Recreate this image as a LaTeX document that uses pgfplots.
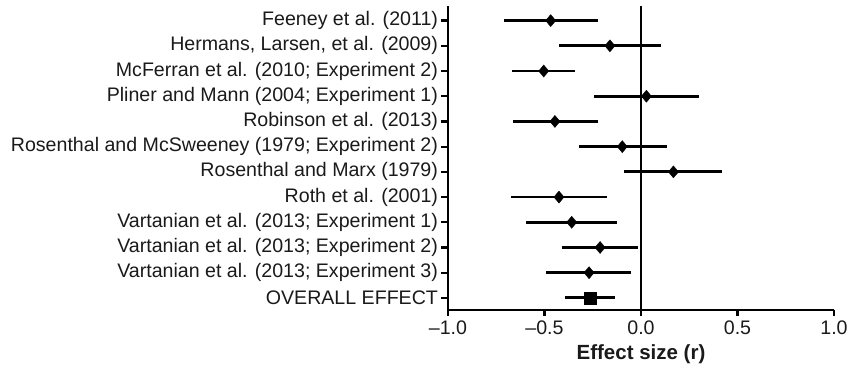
\documentclass[border=0pt]{standalone}
\usepackage{fontspec}
\setmainfont{Liberation Sans}
\usepackage{pgfplots}
\usepackage{pgfplotstable}
\pgfplotsset{compat=1.18}
\pgfplotstableread{
y r lo hi
12 -0.468 -0.710 -0.224
11 -0.161 -0.425 0.105
10 -0.504 -0.667 -0.342
9 0.028 -0.245 0.302
8 -0.446 -0.663 -0.224
7 -0.097 -0.323 0.133
6 0.168 -0.090 0.420
5 -0.425 -0.675 -0.178
4 -0.359 -0.596 -0.123
3 -0.212 -0.411 -0.014
2 -0.269 -0.491 -0.052
}\studies
\pgfplotstableread{
y r lo hi
1 -0.261 -0.392 -0.133
}\overall
\definecolor{ink}{HTML}{1A1A1A}
\begin{document}
\begin{tikzpicture}
\useasboundingbox (0pt,0pt) rectangle (849pt,374pt);
\begin{axis}[
  at={(448pt,64pt)}, anchor=south west,
  scale only axis, width=386pt, height=304pt,
  xmin=-1, xmax=1, ymin=0.52, ymax=12.58,
  axis x line*=bottom, axis y line*=left,
  axis line style={-, line width=2.3pt, black},
  tick align=outside, major tick length=6.5pt,
  tick style={line width=2.3pt, black},
  xtick={-1,-0.5,0,0.5,1},
  xticklabels={\textendash1.0,\textendash0.5,0.0,0.5,1.0},
  ytick={1,...,12},
  yticklabels={OVERALL EFFECT,
    Vartanian et al. (2013; Experiment 3),
    Vartanian et al. (2013; Experiment 2),
    Vartanian et al. (2013; Experiment 1),
    Roth et al. (2001),
    Rosenthal and Marx (1979),
    Rosenthal and McSweeney (1979; Experiment 2),
    Robinson et al. (2013),
    Pliner and Mann (2004; Experiment 1),
    McFerran et al. (2010; Experiment 2),
    {Hermans, Larsen, et al. (2009)},
    Feeney et al. (2011)},
  ticklabel style={font=\fontsize{19.6}{23}\selectfont, text=ink},
  xticklabel style={yshift=-1pt},
  xlabel={\textbf{Effect size (r)}},
  xlabel style={font=\fontsize{20.5}{24}\selectfont, text=ink, yshift=-3pt},
  clip=false,
]
\addplot[line width=2pt, black] coordinates {(0,0.52) (0,12.58)};
\addplot[draw=none, mark=none, forget plot,
  error bars/.cd, x dir=both, x explicit, error mark=none,
  error bar style={line width=2.8pt, black}]
  table[x=r, y=y, x error plus expr=\thisrow{hi}-\thisrow{r}, x error minus expr=\thisrow{r}-\thisrow{lo}] {\studies};
\addplot[draw=none, mark=none, forget plot,
  error bars/.cd, x dir=both, x explicit, error mark=none,
  error bar style={line width=2.8pt, black}]
  table[x=r, y=y, x error plus expr=\thisrow{hi}-\thisrow{r}, x error minus expr=\thisrow{r}-\thisrow{lo}] {\overall};
\addplot[only marks, mark=diamond*, mark size=6pt, mark options={xscale=1.12}, black] table[x=r, y=y] {\studies};
\addplot[only marks, mark=square*, mark size=6pt, black] table[x=r, y=y] {\overall};
\end{axis}
\end{tikzpicture}
\end{document}
